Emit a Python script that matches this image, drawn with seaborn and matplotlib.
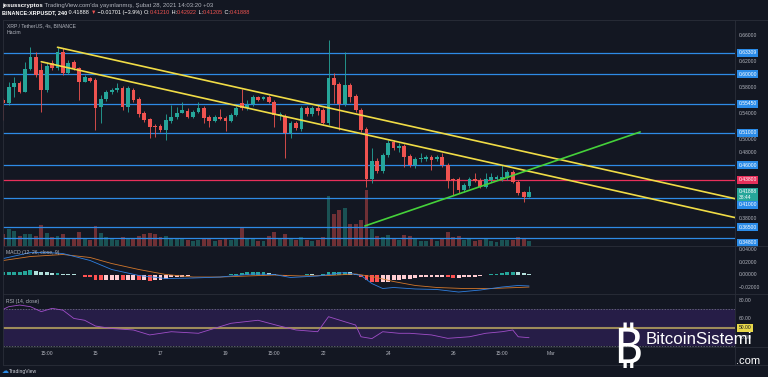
import numpy as np
import pandas as pd
import matplotlib
matplotlib.use("Agg")
import matplotlib.pyplot as plt
import seaborn as sns

# ---------------- data ----------------
start_time = "2021-02-12 07:00"          # first visible 4h candle (UTC+3)

opens = [0.5606, 0.5555, 0.5801, 0.5872, 0.5734, 0.6078, 0.6262, 0.6067, 0.5760, 0.6170,
         0.6093, 0.6339, 0.6026, 0.6185, 0.6093, 0.5887, 0.5939, 0.5913, 0.5494, 0.5621,
         0.5724, 0.5760, 0.5786, 0.5494, 0.5760, 0.5617, 0.5411, 0.5310, 0.5207, 0.5207,
         0.5145, 0.5288, 0.5340, 0.5411, 0.5442, 0.5350, 0.5426, 0.5479, 0.5340, 0.5288,
         0.5340, 0.5325, 0.5288, 0.5376, 0.5560, 0.5479, 0.5545, 0.5648, 0.5617, 0.5657,
         0.5580, 0.5360, 0.5360, 0.5104, 0.5248, 0.5156, 0.5479, 0.5391, 0.5479, 0.5453,
         0.5248, 0.5939, 0.5852, 0.5545, 0.5837, 0.5668, 0.5453, 0.5156, 0.4388, 0.4674,
         0.4520, 0.4761, 0.4966, 0.4864, 0.4900, 0.4746, 0.4612, 0.4695, 0.4695, 0.4735,
         0.4695, 0.4726, 0.4612, 0.4385, 0.4388, 0.4224, 0.4285, 0.4388, 0.4377, 0.4274,
         0.4377, 0.4400, 0.4388, 0.4403, 0.4505, 0.4351, 0.4188, 0.4121]
highs = [0.5637, 0.5887, 0.5964, 0.5898, 0.6194, 0.6425, 0.6348, 0.6170, 0.6194, 0.6221,
         0.6425, 0.6400, 0.6221, 0.6221, 0.6118, 0.5990, 0.5959, 0.5944, 0.5683, 0.5760,
         0.5790, 0.5863, 0.5821, 0.5821, 0.5786, 0.5652, 0.5437, 0.5330, 0.5237, 0.5237,
         0.5391, 0.5529, 0.5503, 0.5580, 0.5479, 0.5453, 0.5580, 0.5514, 0.5376, 0.5376,
         0.5463, 0.5360, 0.5406, 0.5514, 0.5771, 0.5606, 0.5683, 0.5668, 0.5668, 0.5683,
         0.5606, 0.5422, 0.5391, 0.5284, 0.5284, 0.5514, 0.5514, 0.5514, 0.5529, 0.5483,
         0.6528, 0.6016, 0.5883, 0.6348, 0.5867, 0.5698, 0.5483, 0.5191, 0.4864, 0.4715,
         0.4792, 0.4992, 0.4992, 0.4941, 0.4930, 0.4777, 0.4731, 0.4787, 0.4761, 0.4761,
         0.4761, 0.4787, 0.4643, 0.4403, 0.4423, 0.4331, 0.4423, 0.4480, 0.4408, 0.4480,
         0.4489, 0.4454, 0.4612, 0.4531, 0.4531, 0.4377, 0.4208, 0.4292]
lows = [0.5299, 0.5529, 0.5657, 0.5714, 0.5729, 0.6067, 0.5964, 0.5426, 0.5734, 0.6067,
        0.6067, 0.5990, 0.6006, 0.6067, 0.5606, 0.5883, 0.5887, 0.5145, 0.5248, 0.5591,
        0.5698, 0.5734, 0.5453, 0.5426, 0.5580, 0.5350, 0.5268, 0.5018, 0.5042, 0.5115,
        0.4992, 0.5253, 0.5314, 0.5402, 0.5325, 0.5330, 0.5406, 0.5248, 0.5191, 0.5268,
        0.5299, 0.5135, 0.5268, 0.5360, 0.5453, 0.5453, 0.5514, 0.5591, 0.5606, 0.5555,
        0.5196, 0.5299, 0.4711, 0.5018, 0.5145, 0.5130, 0.5360, 0.5360, 0.5376, 0.5230,
        0.5217, 0.5555, 0.5145, 0.5514, 0.5580, 0.5422, 0.5119, 0.4274, 0.4331, 0.4485,
        0.4480, 0.4731, 0.4838, 0.4812, 0.4582, 0.4572, 0.4557, 0.4658, 0.4669, 0.4531,
        0.4669, 0.4577, 0.4250, 0.4147, 0.4173, 0.4193, 0.4254, 0.4346, 0.4254, 0.4254,
        0.4346, 0.4377, 0.4362, 0.4377, 0.4326, 0.4147, 0.4044, 0.4121]
closes = [0.5560, 0.5810, 0.5872, 0.5734, 0.6078, 0.6262, 0.5990, 0.5760, 0.6128, 0.6093,
          0.6339, 0.6016, 0.6179, 0.6093, 0.5878, 0.5955, 0.5903, 0.5483, 0.5621, 0.5724,
          0.5760, 0.5786, 0.5494, 0.5786, 0.5606, 0.5391, 0.5299, 0.5196, 0.5187, 0.5145,
          0.5299, 0.5340, 0.5411, 0.5453, 0.5350, 0.5426, 0.5479, 0.5325, 0.5288, 0.5340,
          0.5319, 0.5288, 0.5376, 0.5479, 0.5483, 0.5529, 0.5648, 0.5606, 0.5648, 0.5580,
          0.5376, 0.5391, 0.5104, 0.5248, 0.5171, 0.5479, 0.5391, 0.5479, 0.5442, 0.5248,
          0.5939, 0.5837, 0.5545, 0.5837, 0.5657, 0.5453, 0.5145, 0.4388, 0.4674, 0.4520,
          0.4761, 0.4950, 0.4864, 0.4900, 0.4735, 0.4612, 0.4695, 0.4711, 0.4735, 0.4685,
          0.4726, 0.4612, 0.4366, 0.4370, 0.4224, 0.4301, 0.4388, 0.4366, 0.4274, 0.4388,
          0.4419, 0.4423, 0.4419, 0.4505, 0.4351, 0.4173, 0.4121, 0.4189]
volumes = [240, 340, 300, 200, 240, 240, 200, 420, 260, 180,
           200, 240, 160, 140, 280, 140, 120, 400, 260, 180,
           140, 120, 180, 160, 140, 200, 240, 260, 240, 180,
           200, 160, 140, 160, 120, 100, 120, 160, 140, 100,
           120, 160, 120, 160, 360, 160, 140, 100, 100, 200,
           280, 160, 240, 160, 120, 180, 120, 100, 120, 180,
           1000, 640, 720, 760, 440, 440, 520, 1120, 340, 200,
           180, 220, 160, 120, 220, 200, 160, 100, 100, 160,
           100, 140, 280, 180, 200, 120, 140, 100, 120, 140,
           100, 80, 120, 120, 120, 180, 160, 100]
macd_hist = [0.0031, 0.0039, 0.0046, 0.0046, 0.0054, 0.0062, 0.0054, 0.0039, 0.0031, 0.0023,
             0.0023, 0.0015, 0.0008, 0.0005, -0.0015, -0.0031, -0.0046, -0.0077, -0.0092, -0.0092,
             -0.0092, -0.0085, -0.0092, -0.0085, -0.0085, -0.0092, -0.0092, -0.0100, -0.0092, -0.0085,
             -0.0062, -0.0046, -0.0039, -0.0031, -0.0023, -0.0015, -0.0008, -0.0008, -0.0008, -0.0005,
             -0.0003, -0.0003, 0.0008, 0.0015, 0.0023, 0.0031, 0.0031, 0.0031, 0.0031, 0.0023,
             0.0008, -0.0015, -0.0023, -0.0015, -0.0008, -0.0005, 0.0005, 0.0003, -0.0003, 0.0008,
             0.0031, 0.0039, 0.0039, 0.0046, 0.0031, 0.0015, -0.0031, -0.0077, -0.0108, -0.0123,
             -0.0123, -0.0108, -0.0092, -0.0085, -0.0062, -0.0062, -0.0054, -0.0046, -0.0039, -0.0039,
             -0.0031, -0.0031, -0.0046, -0.0054, -0.0054, -0.0046, -0.0039, -0.0031, -0.0023, -0.0008,
             0.0008, 0.0015, 0.0023, 0.0031, 0.0039, 0.0031, 0.0023, 0.0015]
macd_idx = [0, 5, 8, 11, 16, 20, 25, 30, 35, 40, 46, 50, 53, 58, 63, 66, 68, 70, 72, 76, 80, 84, 88, 92, 95, 97]
macd_vals = [0.0246, 0.0339, 0.0339, 0.0323, 0.0216, 0.0077, -0.0015, -0.0062, -0.0054, -0.0039,
             0.0008, 0.0000, -0.0046, -0.0023, 0.0031, -0.0015, -0.0139, -0.0216, -0.0200, -0.0223,
             -0.0231, -0.0270, -0.0239, -0.0193, -0.0169, -0.0177]
signal_idx = [0, 5, 11, 16, 20, 25, 30, 35, 40, 45, 50, 55, 60, 65, 68, 72, 76, 80, 85, 90, 95, 97]
signal_vals = [0.0216, 0.0277, 0.0308, 0.0262, 0.0169, 0.0077, 0.0000, -0.0039, -0.0039, -0.0023,
               -0.0008, -0.0023, -0.0015, 0.0008, -0.0031, -0.0108, -0.0169, -0.0200, -0.0216,
               -0.0216, -0.0200, -0.0193]
rsi_idx = [0, 1, 3, 5, 7, 9, 11, 13, 15, 17, 20, 24, 27, 31, 36, 42, 47, 51, 54, 58,
           60, 63, 65, 66, 68, 70, 73, 75, 79, 82, 86, 89, 92, 94, 95, 97]
rsi_vals = [70.0, 72.8, 74.6, 72.8, 67.4, 71.0, 69.0, 60.0, 58.0, 51.7, 49.0, 47.4, 42.0, 45.5,
            43.8, 54.7, 58.0, 51.7, 47.4, 45.5, 61.9, 56.4, 52.8, 40.0, 38.0, 45.5, 43.8, 43.8,
            42.0, 38.3, 40.0, 43.8, 45.5, 47.4, 40.0, 39.0]

blue_levels = [0.63309, 0.60000, 0.55450, 0.51000, 0.46000, 0.41000, 0.36500, 0.34800]
red_level = 0.43800
last_price = 0.41888
countdown = "38:44"
upper_trend_idx = [10, 135]
upper_trend_price = [0.6416, 0.4090]
lower_trend_idx = [7, 135]
lower_trend_price = [0.6194, 0.3800]
green_trend_idx = [66.7, 117.5]
green_trend_price = [0.3671, 0.5115]

price_ticks = [0.66, 0.62, 0.58, 0.54, 0.50, 0.48, 0.38]
macd_ticks = [0.04, 0.02, 0.0, -0.02]
macd_tick_labels = ["0.04000", "0.02000", "0.00000", "\u22120.02000"]
rsi_ticks = [80, 60, 40]
rsi_tick_labels = ["80.00", "60.00", "40.00"]
time_tick_times = ["2021-02-13 15:00", "2021-02-15 03:00", "2021-02-17 03:00", "2021-02-19 03:00",
                   "2021-02-20 15:00", "2021-02-22 03:00", "2021-02-24 03:00", "2021-02-26 03:00",
                   "2021-02-27 15:00", "2021-03-01 03:00"]
time_tick_labels = ["15:00", "15", "17", "19", "15:00", "22", "24", "26", "15:00", "Mar"]

# ---------------- style ----------------
BG = "#131722"
GREEN = "#26a69a"
RED = "#ef5350"
BLUE = "#2e8be6"
TXT = "#b2b5be"
SEP = "#2a2e39"
W, H = 768, 377

sns.set_theme(style="dark", rc={"axes.facecolor": BG, "figure.facecolor": BG,
                                "savefig.facecolor": BG})
plt.rcParams["font.family"] = ["Liberation Sans", "DejaVu Sans"]

fig = plt.figure(figsize=(W / 100, H / 100), dpi=100)


def rect(x0, y0, x1, y1):
    return [x0 / W, 1 - y1 / H, (x1 - x0) / W, (y1 - y0) / H]


def clean(ax):
    for s in ax.spines.values():
        s.set_visible(False)
    ax.grid(False)


o, h, l, c = map(np.asarray, (opens, highs, lows, closes))
x = np.arange(len(o))
cols = np.where(c >= o, GREEN, RED)

# ---------------- price pane ----------------
ax_p = fig.add_axes(rect(3, 20, 735, 246))
ax_v = ax_p.twinx()
ax_v.set_zorder(1)
ax_p.set_zorder(2)
ax_p.patch.set_visible(False)
ax_v.patch.set_facecolor(BG)
clean(ax_p)
clean(ax_v)

ax_v.bar(x, volumes, width=0.72, color=cols, alpha=0.42, linewidth=0)
ax_v.set_ylim(-10, 4510)
ax_v.set_yticks([])

for lv in blue_levels:
    ax_p.axhline(lv, color=BLUE, lw=0.9, zorder=1)
ax_p.axhline(red_level, color="#e8305b", lw=0.9, zorder=1)

ax_p.vlines(x, l, h, colors=cols, linewidth=0.6, zorder=3)
ax_p.bar(x, np.maximum(np.abs(c - o), 0.0012), bottom=np.minimum(o, c), width=0.7,
         color=cols, linewidth=0, zorder=4)

sns.lineplot(x=upper_trend_idx, y=upper_trend_price, ax=ax_p, color="#f0dc46", lw=1.2, zorder=5)
sns.lineplot(x=lower_trend_idx, y=lower_trend_price, ax=ax_p, color="#f0dc46", lw=1.2, zorder=5)
sns.lineplot(x=green_trend_idx, y=green_trend_price, ax=ax_p, color="#45d13a", lw=1.2, zorder=5)

ax_p.set_xlim(-0.06, 135.0)
ax_p.set_ylim(0.33634, 0.68350)
ax_p.yaxis.tick_right()
ax_p.set_yticks(price_ticks)
ax_p.set_yticklabels([f"{v:.5f}" for v in price_ticks])
ax_p.tick_params(axis="y", length=0, pad=2.6, labelsize=3.6, labelcolor=TXT,
                 left=False, right=True, labelleft=False, labelright=True)
ax_p.tick_params(axis="x", bottom=False, labelbottom=False)
ax_p.set_xlabel("")
ax_p.set_ylabel("")


def box(ax, y, text, fc, tc="white"):
    ax.text(1.0045, y, text, transform=ax.get_yaxis_transform(), ha="left", va="center",
            fontsize=3.6, color=tc, linespacing=1.1, clip_on=False, zorder=10,
            bbox=dict(boxstyle="square,pad=0.3", fc=fc, ec="none"))


label_pos = {0.41000: 0.4000, 0.34800: 0.3414}
for lv in blue_levels:
    box(ax_p, label_pos.get(lv, lv), f"{lv:.5f}", "#2a8be8")
box(ax_p, red_level, f"{red_level:.5f}", "#e8305b")
box(ax_p, 0.4152, f"{last_price:.5f}\n{countdown}", GREEN)

# ---------------- MACD pane ----------------
ax_m = fig.add_axes(rect(3, 246, 735, 294), sharex=ax_p)
clean(ax_m)
hcols = []
prev = 0.0
for v in macd_hist:
    if v >= 0:
        hcols.append("#26a69a" if v >= prev else "#b2dfdb")
    else:
        hcols.append("#ff5252" if v < prev else "#ffcdd2")
    prev = v
ax_m.bar(x, macd_hist, width=0.72, color=hcols, linewidth=0)
sns.lineplot(x=signal_idx, y=signal_vals, ax=ax_m, color="#d2772b", lw=0.6)
sns.lineplot(x=macd_idx, y=macd_vals, ax=ax_m, color="#2f7fe0", lw=0.6)
ax_m.set_ylim(-0.03003, 0.04389)
ax_m.yaxis.tick_right()
ax_m.set_yticks(macd_ticks)
ax_m.set_yticklabels(macd_tick_labels)
ax_m.tick_params(axis="y", length=0, pad=2.6, labelsize=3.6, labelcolor=TXT,
                 left=False, right=True, labelleft=False, labelright=True)
ax_m.tick_params(axis="x", bottom=False, labelbottom=False)
ax_m.set_xlabel("")
ax_m.set_ylabel("")

# ---------------- RSI pane ----------------
ax_r = fig.add_axes(rect(3, 294, 735, 347), sharex=ax_p)
clean(ax_r)
ax_r.axhspan(30, 70, color="#261d47", zorder=0, lw=0)
ax_r.axhline(70, color="#787b86", lw=0.5, ls=(0, (2, 2)), zorder=1)
ax_r.axhline(30, color="#787b86", lw=0.5, ls=(0, (2, 2)), zorder=1)
ax_r.axhline(50, color="#9e8c5a", lw=1.5, zorder=2)
sns.lineplot(x=rsi_idx, y=rsi_vals, ax=ax_r, color="#a04ec8", lw=0.6, zorder=3)
ax_r.set_ylim(28.84, 86.64)
ax_r.yaxis.tick_right()
ax_r.set_yticks(rsi_ticks)
ax_r.set_yticklabels(rsi_tick_labels)
ax_r.tick_params(axis="y", length=0, pad=2.6, labelsize=3.6, labelcolor=TXT,
                 left=False, right=True, labelleft=False, labelright=True)
box(ax_r, 50, "50.00", "#e8d84a", tc="#131722")

t0 = pd.Timestamp(start_time)
tick_pos = [(pd.Timestamp(t) - t0) / pd.Timedelta("4h") for t in time_tick_times]
ax_r.set_xticks(tick_pos)
ax_r.set_xticklabels(time_tick_labels)
ax_r.tick_params(axis="x", length=0, pad=3.2, labelsize=3.6, labelcolor=TXT,
                 bottom=True, labelbottom=True)
ax_r.set_xlabel("")
ax_r.set_ylabel("")
ax_r.set_xlim(-0.06, 135.0)

# ---------------- overlay (frame, header, watermark) ----------------
ax_bg = fig.add_axes([0, 0, 1, 1], zorder=10)
ax_bg.set_xlim(0, W)
ax_bg.set_ylim(H, 0)
ax_bg.axis("off")
for yy in (20, 246, 294, 347, 365):
    ax_bg.plot([3, W], [yy, yy], color=SEP, lw=0.6)
ax_bg.plot([3, 3], [20, 365], color=SEP, lw=0.6)
ax_bg.plot([735, 735], [20, 365], color=SEP, lw=0.6)


def chain(x0, y0, parts, size):
    prev_t = None
    for txt, color, weight in parts:
        if prev_t is None:
            prev_t = ax_bg.text(x0, y0, txt, color=color, fontsize=size, fontweight=weight,
                                ha="left", va="center")
        else:
            prev_t = ax_bg.annotate(txt, xy=(1, 0), xycoords=prev_t, xytext=(0, 0),
                                    textcoords="offset points", ha="left", va="bottom",
                                    color=color, fontsize=size, fontweight=weight)


chain(2, 5.8, [("jesusscryptos", "#ffffff", "bold"),
               (" TradingView.com'da yayınlanmış, Şubat 28, 2021 14:03:20 +03", TXT, "normal")], 4.3)
chain(2, 12.6, [("BINANCE:XRPUSDT, 240", "#ffffff", "bold"),
                (" 0.41888 ", "#ffffff", "normal"), ("▼", RED, "normal"),
                (" \u22120.01701 (\u22123.9%) ", "#ffffff", "normal"),
                ("O:", "#ffffff", "normal"), ("0.41210", RED, "normal"),
                (" H:", "#ffffff", "normal"), ("0.42922", RED, "normal"),
                (" L:", "#ffffff", "normal"), ("0.41205", RED, "normal"),
                (" C:", "#ffffff", "normal"), ("0.41888", RED, "normal")], 4.0)

ax_bg.text(7, 25.7, "XRP / TetherUS, 4s, BINANCE", color=TXT, fontsize=3.7, va="center")
ax_bg.text(7, 32.7, "Hacim", color=TXT, fontsize=3.7, va="center")
ax_bg.text(6, 252.7, "MACD (12, 26, close, 9)", color=TXT, fontsize=3.6, va="center")
ax_bg.text(6, 302, "RSI (14, close)", color=TXT, fontsize=3.6, va="center")

ax_bg.text(2, 371, "\u2601", color="#2a8be8", fontsize=5, va="center", family="DejaVu Sans")
ax_bg.text(9, 371, "TradingView", color="#d1d4dc", fontsize=3.6, va="center")

# watermark
ax_bg.text(627, 349, "\u20bf", color="white", fontsize=36, fontweight="bold", ha="center",
           va="center", family=["DejaVu Sans", "Noto Sans"])
ax_bg.text(646, 340, "BitcoinSistemi", color="white", fontsize=12.2, ha="left", va="center")
ax_bg.text(760, 361, ".com", color="white", fontsize=8, ha="right", va="center")

fig.savefig("out.png", dpi=100, facecolor=BG)
